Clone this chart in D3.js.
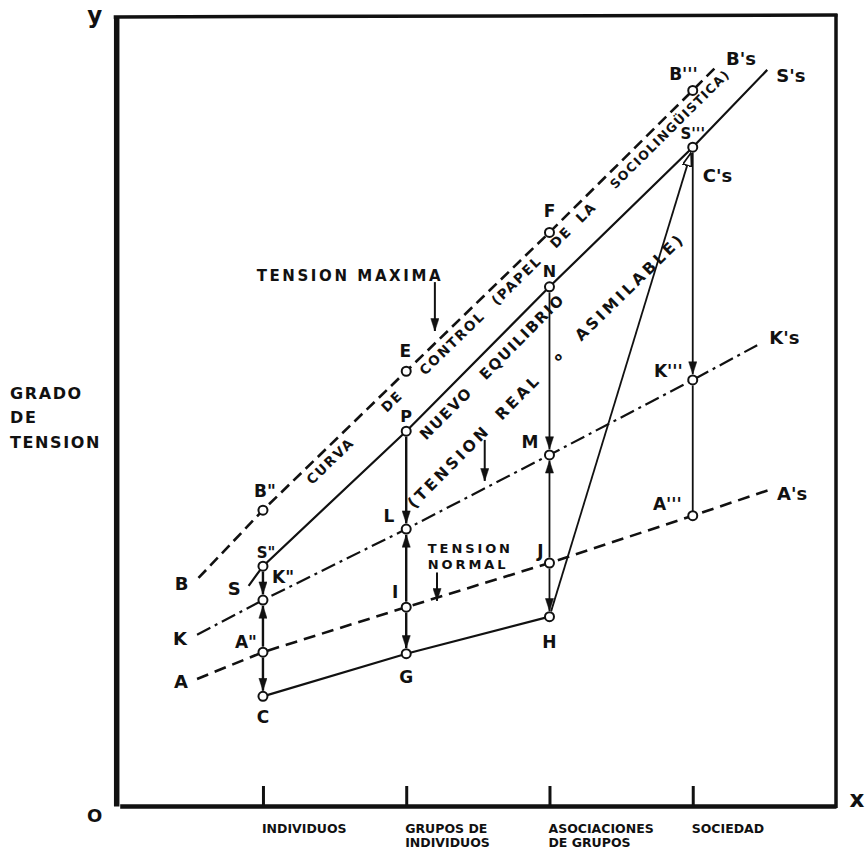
<!DOCTYPE html>
<html><head><meta charset="utf-8">
<script src="https://cdn.jsdelivr.net/npm/d3@7"></script>
<style>
body{margin:0;background:#fff}
text{font-family:"DejaVu Sans",Verdana,sans-serif;font-weight:bold;fill:#111}
</style>
</head><body>
<svg id="c" width="865" height="850"></svg>
<script>
// ---------- data ----------
const categories = [["INDIVIDUOS"],["GRUPOS DE","INDIVIDUOS"],["ASOCIACIONES","DE GRUPOS"],["SOCIEDAD"]];
const tickValues = [1,2,3,4];
const yTitle = ["GRADO","DE","TENSION"];

const lineB = [
  {x:0.55, y:28.9, name:"B", end:true},
  {x:1, y:37.5, name:'B"'},
  {x:2, y:55.1, name:"E"},
  {x:3, y:72.7, name:"F"},
  {x:4, y:90.7, name:"B'''"},
  {x:4.17, y:93.8, name:"B's", end:true}
];
const lineS = [
  {x:0.9, y:27.9, name:"S", end:true},
  {x:1, y:30.4, name:'S"'},
  {x:2, y:47.5, name:"P"},
  {x:3, y:65.8, name:"N"},
  {x:4, y:83.5, name:"S'''"},
  {x:4.52, y:93.3, name:"S's", end:true}
];
const lineK = [
  {x:0.54, y:21.7, name:"K", end:true},
  {x:1, y:26.1, name:'K"'},
  {x:2, y:35.1, name:"L"},
  {x:3, y:44.5, name:"M"},
  {x:4, y:54.0, name:"K'''"},
  {x:4.45, y:58.4, name:"K's", end:true}
];
const lineA = [
  {x:0.54, y:16.1, name:"A", end:true},
  {x:1, y:19.5, name:'A"'},
  {x:2, y:25.2, name:"I"},
  {x:3, y:30.8, name:"J"},
  {x:4, y:36.8, name:"A'''"},
  {x:4.54, y:40.1, name:"A's", end:true}
];
const lineC = [
  {x:1, y:13.9, name:"C"},
  {x:2, y:19.3, name:"G"},
  {x:3, y:24.0, name:"H"}
];
// vertical arrows: from, to, arrowhead?
const arrows = [
  ['S"','K"',1], ['A"','K"',1], ['A"','C',1],
  ['P','L',1], ['I','L',1], ['I','G',1],
  ['N','M',1], ['J','M',1], ['J','H',1],
  ["S'''","K'''",1], ["K'''","A'''",0]
];
const curvaWords = [["CURVA",1.47],["DE",1.9],["CONTROL",2.32],["(PAPEL",2.77],["DE",3.08],["LA",3.255],["SOCIOLINGÜISTICA)",3.84]];
const nuevoWords = [["NUEVO",2.277],["EQUILIBRIO",2.807]];
const realWords = [["(TENSION",2.297],["REAL",2.779],["o",3.058],["ASIMILABLE)",3.56]];

// ---------- drawing ----------
const svg = d3.select("#c");
svg.append("rect").attr("width",865).attr("height",850).attr("fill","#fff");
const x = d3.scaleLinear().domain([0,5]).range([119.7, 836]);
const y = d3.scaleLinear().domain([0,100]).range([806, 17]);
const ink = "#111";

const defs = svg.append("defs");
function marker(id, fill, w, h){
  defs.append("marker").attr("id",id).attr("viewBox","0 0 12 10").attr("refX",12).attr("refY",5)
    .attr("markerWidth",w).attr("markerHeight",h).attr("markerUnits","userSpaceOnUse")
    .attr("orient","auto").attr("preserveAspectRatio","none")
    .append("path").attr("d","M0.5,0.5 L12,5 L0.5,9.5 Z").attr("fill",fill)
    .attr("stroke",ink).attr("stroke-width", fill==="#fff"?1.6:0.5);
}
marker("ah", ink, 13, 9);
marker("aho", "#fff", 14, 10);

// frame & axes
const xAxis = d3.axisBottom(x).tickValues(tickValues).tickSizeInner(-20).tickSizeOuter(0).tickFormat("");
const gx = svg.append("g").attr("transform",`translate(0,${y(0)})`).call(xAxis);
gx.select(".domain").attr("stroke",ink).attr("stroke-width",4.5);
gx.selectAll(".tick line").attr("stroke",ink).attr("stroke-width",3);
const yAxis = d3.axisLeft(y).tickValues([]).tickSizeOuter(0);
const gy = svg.append("g").attr("transform",`translate(${x(0)-3.5},0)`).call(yAxis);
gy.select(".domain").attr("stroke",ink).attr("stroke-width",5.5);
svg.append("line").attr("x1",x(0)-6).attr("x2",x(5)+1.5).attr("y1",y(100)).attr("y2",y(100)-2)
  .attr("stroke",ink).attr("stroke-width",3.5);
svg.append("line").attr("x1",x(5)).attr("x2",x(5)).attr("y1",y(100)-3).attr("y2",y(0)+2)
  .attr("stroke",ink).attr("stroke-width",3.5);

// category labels
tickValues.forEach((t,i)=>{
  const tx = svg.append("text").attr("x",x(t)-1).attr("y",y(0)+27).style("font-size","12.5px");
  categories[i].forEach((ln,j)=>{
    tx.append("tspan").attr("x",x(t)-1).attr("dy", j===0?0:14).text(ln);
  });
});
svg.append("text").attr("x",x(0)-25).attr("y",23).attr("text-anchor","middle").style("font-size","23px").text("y");
svg.append("text").attr("x",x(0)-25).attr("y",y(0)+16).attr("text-anchor","middle").style("font-size","18px").text("O");
svg.append("text").attr("x",x(5)+21).attr("y",y(0)+1).attr("text-anchor","middle").style("font-size","23px").text("x");
const yt = svg.append("text").attr("x",10).attr("y",399).style("font-size","16px").style("letter-spacing","1.6px");
yTitle.forEach((t,j)=> yt.append("tspan").attr("x",10).attr("dy", j===0?0:j===1?24:25).text(t));

// lines
const lg = d3.line().x(d=>x(d.x)).y(d=>y(d.y));
svg.append("path").datum(lineB).attr("d",lg).attr("fill","none").attr("stroke",ink).attr("stroke-width",2.6).attr("stroke-dasharray","11,6");
svg.append("path").datum(lineS).attr("d",lg).attr("fill","none").attr("stroke",ink).attr("stroke-width",2.2);
svg.append("path").datum(lineK).attr("d",lg).attr("fill","none").attr("stroke",ink).attr("stroke-width",2.2).attr("stroke-dasharray","15,5,3,5");
svg.append("path").datum(lineA).attr("d",lg).attr("fill","none").attr("stroke",ink).attr("stroke-width",2.6).attr("stroke-dasharray","12,7");
svg.append("path").datum(lineC).attr("d",lg).attr("fill","none").attr("stroke",ink).attr("stroke-width",2.2);

const all = [...lineB,...lineS,...lineK,...lineA,...lineC];
const byName = {}; all.forEach(d=>byName[d.name]=d);
const R = 4.5;

function seg(p, q, head, sw, mk){
  const x1=x(p.x), y1=y(p.y), x2=x(q.x), y2=y(q.y);
  const L = Math.hypot(x2-x1,y2-y1), ux=(x2-x1)/L, uy=(y2-y1)/L;
  const s = R+1, e = head? R+1.2 : R;
  const l = svg.append("line").attr("x1",x1+ux*s).attr("y1",y1+uy*s).attr("x2",x2-ux*e).attr("y2",y2-uy*e)
    .attr("stroke",ink).attr("stroke-width",sw);
  if(head) l.attr("marker-end",`url(#${mk||"ah"})`);
}
arrows.forEach(([a,b,h])=>{
  const p=byName[a], q=byName[b];
  seg(p,q,h, p.x<2.5?2.4:1.8);
});
seg(byName["H"], byName["S'''"], 1, 1.8, "aho");

// annotation arrows
function vArrow(xv, y1, y2){
  svg.append("line").attr("x1",x(xv)).attr("x2",x(xv)).attr("y1",y(y1)).attr("y2",y(y2))
    .attr("stroke",ink).attr("stroke-width",2).attr("marker-end","url(#ah)");
}
vArrow(2.2, 66.4, 60.2);
vArrow(2.548, 46.4, 41.2);
vArrow(2.215, 29.6, 26.0);

svg.append("text").attr("x",x(1.607)).attr("y",y(66.6)).attr("text-anchor","middle")
  .style("font-size","15px").style("letter-spacing","2.6px").text("TENSION MAXIMA");
svg.append("text").attr("x",x(2.151)).attr("y",y(32.0)-1).style("font-size","13px").style("letter-spacing","2.9px").text("TENSION");
svg.append("text").attr("x",x(2.151)).attr("y",y(32.0)+15).style("font-size","13px").style("letter-spacing","2.9px").text("NORMAL");

// rotated words
function placeWords(words, line, vOff, size, ls){
  const yAt = d3.scaleLinear().domain(line.map(d=>x(d.x))).range(line.map(d=>y(d.y)));
  words.forEach(([t,xv])=>{
    const px = x(xv), py = yAt(px)+vOff;
    const a = Math.atan2(yAt(px+8)-yAt(px-8),16)*180/Math.PI;
    const long = t.length>12;
    svg.append("text").attr("transform",`translate(${px},${py}) rotate(${a})`)
      .attr("text-anchor","middle").attr("dy","0.36em")
      .style("font-size", t==="o"? "11px" : (long? size-1 : size)+"px")
      .style("letter-spacing", t==="o"?"0px":(long? ls-0.4 : ls)+"px").text(t);
  });
}
placeWords(curvaWords, lineB, 16, 13.5, 1.8);
placeWords(nuevoWords, lineS, 22, 15, 1.6);
placeWords(realWords, lineS, 78, 15.5, 3.2);

// circles (not on line ends)
svg.selectAll("circle.pt").data(all.filter(d=>!d.end)).join("circle").attr("class","pt")
  .attr("cx",d=>x(d.x)).attr("cy",d=>y(d.y)).attr("r",R)
  .attr("fill","#fff").attr("stroke",ink).attr("stroke-width",2);

// labels: [dx, dy(baseline), anchor, size]
const labelPos = {
  'B':[-10,12,'end',18], 'S':[-8,9,'end',18], 'K':[-10,10,'end',18], 'A':[-9,9,'end',18],
  "B's":[9,-1,'start',18], "S's":[9,12,'start',18], "K's":[12,-1,'start',18], "A's":[7,10,'start',18],
  'B"':[2,-13,'middle',17], 'S"':[3,-8,'middle',15], 'K"':[9,-17,'start',17], 'A"':[-6,-4,'end',17], 'C':[0,27,'middle',17],
  'E':[-1,-14,'middle',17], 'P':[0,-9,'middle',16], 'L':[-12,-7,'end',17], 'I':[-8,-9,'end',17], 'G':[0,29,'middle',17],
  'F':[0,-15,'middle',17], 'N':[0,-10,'middle',16], 'M':[-11,-7,'end',17], 'J':[-6,-6,'end',17], 'H':[0,31,'middle',17],
  "B'''":[5,-10,'end',17], "S'''":[0,-8,'middle',15], "K'''":[-10,-3,'end',17], "A'''":[-11,-6,'end',17]
};
all.forEach(d=>{
  const lp = labelPos[d.name]; if(!lp) return;
  svg.append("text").attr("x",x(d.x)+lp[0]).attr("y",y(d.y)+lp[1]).attr("text-anchor",lp[2])
    .style("font-size",lp[3]+"px").text(d.name);
});
const sp = byName["S'''"];
svg.append("text").attr("x",x(sp.x)+10).attr("y",y(sp.y)+35).style("font-size","18px").text("C's");
</script>
</body></html>
